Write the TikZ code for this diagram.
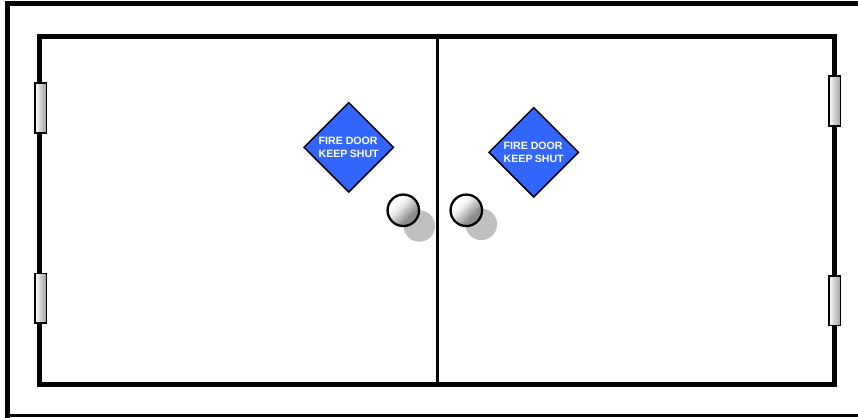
\documentclass[tikz,border=0pt]{standalone}
\usepackage{fontspec}
\setmainfont{Liberation Sans}
\usetikzlibrary{shapes.geometric}
\definecolor{signblue}{RGB}{51,102,255}
\definecolor{shadowgray}{RGB}{191,191,191}
\pgfdeclareverticalshading{knobshade}{100bp}{color(0bp)=(gray!90); color(36bp)=(gray!90); color(58bp)=(gray!15); color(68bp)=(white); color(100bp)=(white)}
\tikzset{
  frameline/.style={draw=black,line width=5pt,line cap=butt,line join=miter},
  hingebox/.style={draw=black,line width=1.5pt,left color=white,right color=gray!75,minimum width=11.5pt,minimum height=49.5pt,inner sep=0pt,rectangle},
  signbox/.style={diamond,draw=black,fill=signblue,line width=1.5pt,minimum width=90pt,minimum height=90pt,inner sep=0pt,aspect=1,text=white},
  knobbox/.style={circle,draw=black,line width=2.3pt,inner sep=0pt,minimum size=31.5pt,shading=knobshade,shading angle=45},
  knobshadow/.style={circle,fill=shadowgray,inner sep=0pt,minimum size=31.5pt},
}
\newcommand{\signtext}{\parbox{60pt}{\fontsize{10.6pt}{12.2pt}\bfseries\selectfont FIRE DOOR\\KEEP SHUT}}
\begin{document}
\begin{tikzpicture}[x=1pt,y=-1pt]
\useasboundingbox (0,0) rectangle (858,417);
\fill[white] (0,0) rectangle (858,417);
\draw[draw=black,line width=5pt] (7.5,420) -- (7.5,4) -- (862,4);
\draw[draw=black,line width=3.6pt] (5,415.5) -- (862,415.5);
\coordinate (tl) at (39.5,36.5);
\coordinate (tr) at (834,36.5);
\coordinate (br) at (834,384.5);
\coordinate (bl) at (39.5,384.5);
\coordinate (tm) at (437.5,36.5);
\coordinate (bm) at (437.5,384.5);
\draw[frameline] (tl) -- (tr) -- (br) -- (bl) -- cycle;
\draw[black,line width=3.8pt] (tm) -- (bm);
\node[hingebox] (h1) at (40.5,108) {};
\node[hingebox] (h2) at (40.5,298) {};
\node[hingebox] (h3) at (834.5,101) {};
\node[hingebox] (h4) at (834.5,300.5) {};
\node[signbox] (s1) at (348.7,147.3) {};
\node[signbox] (s2) at (533.7,152.3) {};
\node[text=white,inner sep=0pt,align=left] (t1) at (s1.center) {\signtext};
\node[text=white,inner sep=0pt,align=left] (t2) at (s2.center) {\signtext};
\node[knobshadow] (ks1) at (419.3,226) {};
\node[knobshadow] (ks2) at (481.3,224.3) {};
\node[knobbox] (k1) at (403.3,210.3) {};
\node[knobbox] (k2) at (466.3,210.3) {};
\end{tikzpicture}
\end{document}
